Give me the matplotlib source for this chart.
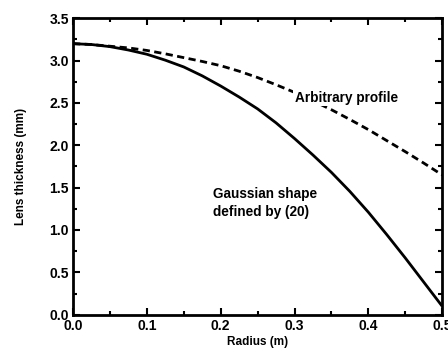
import numpy as np
import matplotlib
matplotlib.use('Agg')
import matplotlib.pyplot as plt
from matplotlib.ticker import MultipleLocator

# radius (m) and lens thickness (mm)
radius = [0.0, 0.025, 0.05, 0.075, 0.10, 0.125, 0.15, 0.175, 0.20, 0.225, 0.25,
          0.275, 0.30, 0.325, 0.35, 0.375, 0.40, 0.425, 0.45, 0.475, 0.50]
gauss_thickness = [3.20, 3.19, 3.165, 3.125, 3.075, 3.005, 2.925, 2.82, 2.70, 2.57, 2.43,
                   2.265, 2.08, 1.885, 1.68, 1.455, 1.21, 0.945, 0.67, 0.385, 0.10]
arb_thickness = [3.20, 3.19, 3.17, 3.15, 3.12, 3.08, 3.035, 2.99, 2.94, 2.875, 2.80,
                 2.715, 2.625, 2.525, 2.42, 2.305, 2.185, 2.055, 1.925, 1.79, 1.65]

plt.rcParams['font.family'] = ['Liberation Sans', 'DejaVu Sans']
plt.rcParams['font.weight'] = 'bold'

fig = plt.figure(figsize=(4.48, 3.58), dpi=100)
ax = fig.add_axes([0.163, 0.121, 0.824, 0.828])

ax.plot(radius, gauss_thickness, color='black', lw=2.0, solid_capstyle='butt')
ax.plot(radius, arb_thickness, color='black', lw=2.0, dashes=(2.6, 1.6))

ax.text(0.30, 2.56, 'Arbitrary profile', fontsize=9.8, fontweight='bold', va='center',
        bbox=dict(facecolor='white', edgecolor='none', pad=1), zorder=5)
ax.text(0.19, 1.32, 'Gaussian shape\ndefined by (20)', fontsize=9.8, fontweight='bold',
        va='center', linespacing=1.3)

ax.set_xlim(0, 0.5)
ax.set_ylim(0, 3.5)
ax.xaxis.set_major_locator(MultipleLocator(0.1))
ax.xaxis.set_minor_locator(MultipleLocator(0.05))
ax.yaxis.set_major_locator(MultipleLocator(0.5))
ax.yaxis.set_minor_locator(MultipleLocator(0.25))
ax.tick_params(which='both', direction='in', top=True, right=True, width=1.5)
ax.tick_params(which='major', length=5, labelsize=10, pad=3)
ax.tick_params(which='minor', length=3)
for lab in ax.get_xticklabels() + ax.get_yticklabels():
    lab.set_fontweight('bold')
for s in ax.spines.values():
    s.set_linewidth(2)

ax.set_xlabel('Radius (m)', fontsize=8.5, fontweight='bold', labelpad=2)
ax.set_ylabel('Lens thickness (mm)', fontsize=8.5, fontweight='bold', labelpad=16)

fig.savefig('out.png', dpi=100)
